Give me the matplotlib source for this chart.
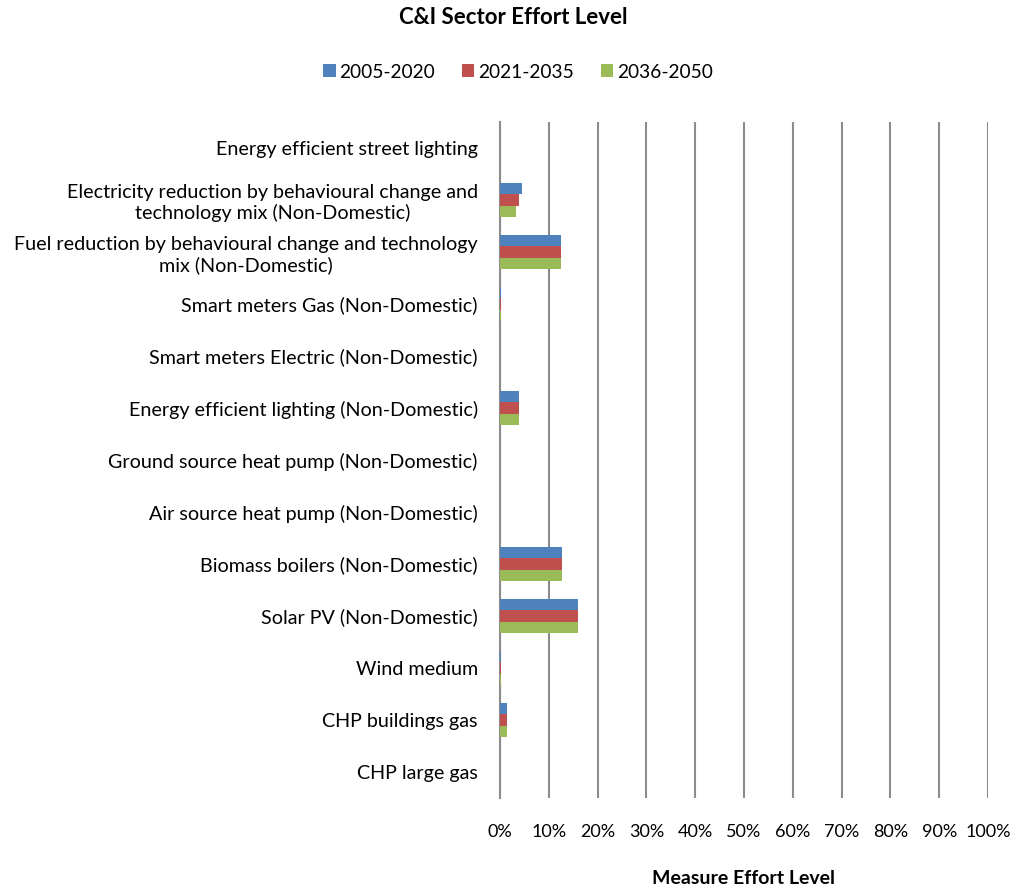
import matplotlib
matplotlib.use("Agg")
import matplotlib.pyplot as plt
import numpy as np
from matplotlib.ticker import FuncFormatter

plt.rcParams['font.family'] = ['Lato', 'DejaVu Sans']

categories = [
    "Energy efficient street lighting",
    "Electricity reduction by behavioural change and\ntechnology mix (Non-Domestic)",
    "Fuel reduction by behavioural change and technology\nmix (Non-Domestic)",
    "Smart meters Gas (Non-Domestic)",
    "Smart meters Electric (Non-Domestic)",
    "Energy efficient lighting (Non-Domestic)",
    "Ground source heat pump (Non-Domestic)",
    "Air source heat pump (Non-Domestic)",
    "Biomass boilers (Non-Domestic)",
    "Solar PV (Non-Domestic)",
    "Wind medium",
    "CHP buildings gas",
    "CHP large gas",
]
series_names = ["2005-2020", "2021-2035", "2036-2050"]
v2005 = [0.0, 4.5, 12.4, 0.3, 0.0, 3.8, 0.0, 0.0, 12.7, 15.9, 0.3, 1.5, 0.0]
v2021 = [0.0, 3.8, 12.4, 0.3, 0.0, 3.8, 0.0, 0.0, 12.7, 15.9, 0.3, 1.5, 0.0]
v2036 = [0.0, 3.3, 12.4, 0.3, 0.0, 3.8, 0.0, 0.0, 12.7, 15.9, 0.3, 1.5, 0.0]
x_ticks = [0, 10, 20, 30, 40, 50, 60, 70, 80, 90, 100]
colors = ["#4F81BD", "#C0504D", "#9BBB59"]

fig = plt.figure(figsize=(10.16, 8.9), dpi=100)
ax = fig.add_axes([500/1016, 1-798/890, 488/1016, 676/890])

n = len(categories)
y = np.arange(n)
h = 0.218
for i, (vals, name, c) in enumerate(zip([v2005, v2021, v2036], series_names, colors)):
    ax.barh(y + (i - 1) * h, vals, height=h, color=c, label=name, zorder=3)

ax.set_ylim(n - 0.5, -0.5)
ax.set_xlim(0, 100)
ax.set_xticks(x_ticks)
ax.xaxis.set_major_formatter(FuncFormatter(lambda v, p: f"{int(v)}%"))
ax.set_yticks(y)
ax.set_yticklabels(categories, multialignment='center')
ax.tick_params(axis='y', length=0, pad=16, labelsize=14.2)
ax.tick_params(axis='x', length=0, pad=19, labelsize=13)
ax.grid(axis='x', color='#8c8c8c', linewidth=1.5, zorder=0)
for s in ['top', 'right', 'bottom']:
    ax.spines[s].set_visible(False)
ax.spines['left'].set_color('#8c8c8c')
ax.spines['left'].set_linewidth(1.5)

fig.text(513/1016, 1-17/890, "C&I Sector Effort Level", ha='center', va='center',
         fontsize=16, fontweight='bold')
fig.text(744/1016, 1-879/890, "Measure Effort Level", ha='center', va='center',
         fontsize=14, fontweight='bold')
fig.legend(loc='center', bbox_to_anchor=(518/1016, 1-72/890), ncol=3, frameon=False,
           fontsize=13.8, handlelength=0.65, handleheight=0.65, handletextpad=0.2,
           columnspacing=1.4)

fig.savefig("out.png", dpi=100)
